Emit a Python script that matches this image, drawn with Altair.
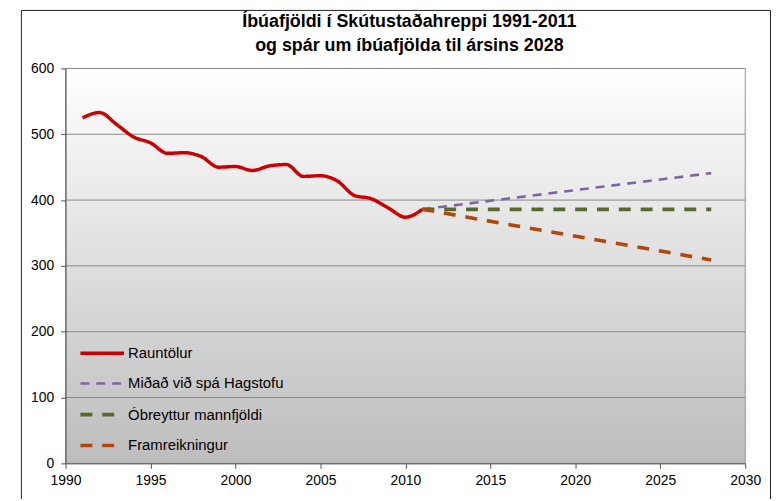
import altair as alt
import pandas as pd

# ---- data ----
years = list(range(1991, 2012))
actual = [525, 533, 515, 496, 487, 471, 472, 466, 450, 451, 445,
          452, 454, 436, 437, 429, 407, 402, 388, 374, 386]
proj_years = [2011, 2028]
hagstofa = [386, 441]
obreytt = [386, 386]
framreikn = [386, 309]

series = ["Rauntölur", "Miðað við spá Hagstofu", "Óbreyttur mannfjöldi", "Framreikningur"]
colors = ["#cc0000", "#8064a2", "#56692b", "#b5450b"]
dashes = [[1, 0], [9, 7], [12, 10], [12, 10]]
widths = [3.5, 2.6, 3.8, 3.6]

xticks = list(range(1990, 2031, 5))
yticks = list(range(0, 601, 100))

title_lines = ["Íbúafjöldi í Skútustaðahreppi 1991-2011",
               "og spár um íbúafjölda til ársins 2028"]

rows = []
for y, v in zip(years, actual):
    rows.append({"year": y, "pop": v, "series": series[0]})
for vals, s in zip([hagstofa, obreytt, framreikn], series[1:]):
    for y, v in zip(proj_years, vals):
        rows.append({"year": y, "pop": v, "series": s})
df = pd.DataFrame(rows)

W, H = 685, 398
FONT = "Liberation Sans"

xscale = alt.Scale(domain=[1990, 2030], nice=False, zero=False)
yscale = alt.Scale(domain=[0, 600], nice=False)

x_axis = alt.Axis(values=xticks, format="d", tickSize=5, labelPadding=5, grid=False,
                  title=None, domainColor="#555555", tickColor="#555555",
                  labelFont=FONT, labelFontSize=14, labelColor="#000000",
                  labelFlush=False, labelOverlap=False, zindex=1)
y_axis = alt.Axis(values=yticks, tickSize=5, labelPadding=7, grid=False,
                  title=None, domainColor="#555555", tickColor="#555555",
                  labelFont=FONT, labelFontSize=14, labelColor="#000000",
                  labelOverlap=False, zindex=1)

one = pd.DataFrame({"a": [0]})

bg = alt.Chart(one).mark_rect(
    fill=alt.LinearGradient(
        gradient="linear",
        stops=[alt.GradientStop(offset=0, color="#ffffff"),
               alt.GradientStop(offset=1, color="#bdbdbd")],
        x1=0, x2=0, y1=0, y2=1),
    stroke="#9a9a9a", strokeWidth=1
).encode(x=alt.value(0), x2=alt.value(W), y=alt.value(0), y2=alt.value(H))

grid = alt.Chart(pd.DataFrame({"pop": yticks[1:]})).mark_rule(
    color="#8a8a8a", strokeWidth=1
).encode(y=alt.Y("pop:Q", scale=yscale, axis=y_axis))

legend = alt.Legend(title=None, orient="none", legendX=24, legendY=274,
                    symbolType="M-2,0H2", symbolSize=484,
                    labelFont=FONT, labelFontSize=15, labelColor="#000000",
                    rowPadding=10, labelOffset=13, padding=0)

lines = alt.Chart(df).mark_line(interpolate="monotone", strokeCap="butt").encode(
    x=alt.X("year:Q", scale=xscale, axis=x_axis),
    y=alt.Y("pop:Q", scale=yscale, axis=y_axis),
    color=alt.Color("series:N", scale=alt.Scale(domain=series, range=colors), legend=legend),
    strokeDash=alt.StrokeDash("series:N", scale=alt.Scale(domain=series, range=dashes), legend=legend),
    strokeWidth=alt.StrokeWidth("series:N", scale=alt.Scale(type="ordinal", domain=series, range=widths), legend=legend),
)

border = alt.Chart(one).mark_rect(filled=False, stroke="#222222", strokeWidth=1).encode(
    x=alt.value(-44.5), x2=alt.value(710.5), y=alt.value(-58.5), y2=alt.value(H + 60)
)

chart = alt.layer(bg, grid, lines, border).properties(
    width=W, height=H,
    title=alt.TitleParams(text=title_lines, font=FONT, fontSize=18, fontWeight="bold",
                          lineHeight=24, anchor="middle", color="#000000", offset=8,
                          dy=53, dx=4),
    padding={"left": 58, "top": 59, "right": 27, "bottom": 34},
    autosize=alt.AutoSizeParams(type="none"),
).configure_view(strokeWidth=0).configure(background="white")

chart.save("out.html", embed_options={"renderer": "svg", "actions": False})
